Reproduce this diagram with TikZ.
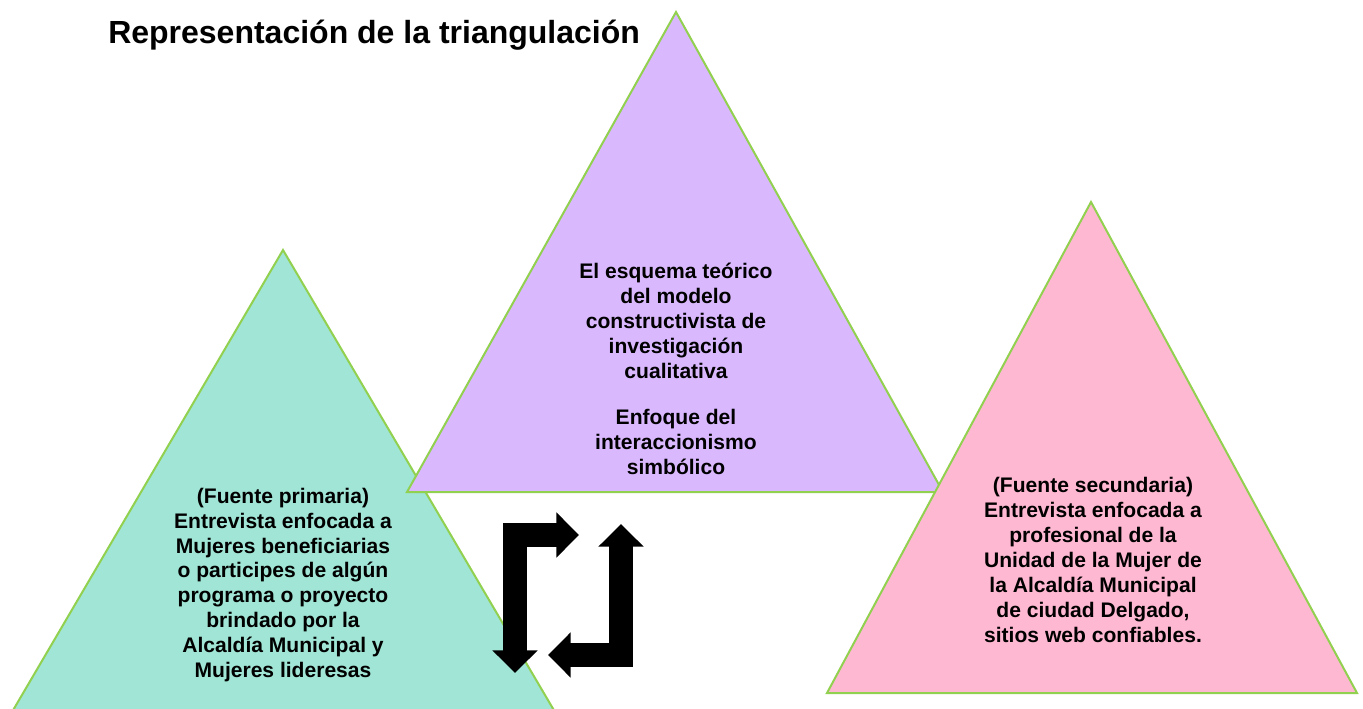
\documentclass[tikz,border=0pt]{standalone}
\usepackage{fontspec}
\setmainfont{Liberation Sans}
\usepackage{xcolor}
\usepackage{tikz}
\usetikzlibrary{arrows.meta}
\usetikzlibrary{positioning}
\definecolor{menta}{HTML}{A0E5D5}
\definecolor{lila}{HTML}{DAB8FE}
\definecolor{rosa}{HTML}{FFB8D2}
\definecolor{borde}{HTML}{92D050}

\begin{document}
\begin{tikzpicture}[
  x=0.75pt, y=-0.75pt,
  tri/.style={draw=borde, line width=1.5pt, line join=miter},
  texto/.style={align=center, font=\fontsize{15.8}{18.7}\selectfont\bfseries},
  flecha/.style={line width=18pt, line join=miter,
    {Triangle[width=33pt,length=17pt]}-{Triangle[width=33pt,length=17pt]}}]
  \useasboundingbox (0,0) rectangle (1363,709);

  \node[anchor=base west, inner sep=0pt, font=\fontsize{24}{28}\selectfont\bfseries] (titulo) at (108,44)
    {Representación de la triangulación};

  % fuente primaria
  \draw[tri, fill=menta] (283,250) -- (12,712) -- (555,712) -- cycle;
  \node[texto] (primaria) at (283,585)
    {(Fuente primaria)\\Entrevista enfocada a\\Mujeres beneficiarias\\o participes de algún\\programa o proyecto\\brindado por la\\Alcaldía Municipal y\\Mujeres lideresas};

  % marco teorico
  \draw[tri, fill=lila] (676,12) -- (407,492) -- (943,492) -- cycle;
  \node[texto] (teoria) at (676,369)
    {El esquema teórico\\del modelo\\constructivista de\\investigación\\cualitativa\\[16pt]Enfoque del\\interaccionismo\\simbólico};

  % fuente secundaria
  \draw[tri, fill=rosa] (1091,202) -- (827,693) -- (1357,693) -- cycle;
  \node[texto] (secundaria) at (1093,560)
    {(Fuente secundaria)\\Entrevista enfocada a\\profesional de la\\Unidad de la Mujer de\\la Alcaldía Municipal\\de ciudad Delgado,\\sitios web confiables.};

  % flechas
  \coordinate (f1a) at (515,673);
  \coordinate (f1b) at (515,535);
  \coordinate (f1c) at (579,535);
  \coordinate (f2a) at (621,524);
  \coordinate (f2b) at (621,655);
  \coordinate (f2c) at (548,655);
  \draw[flecha] (f1a) -- (f1b) -- (f1c);
  \draw[flecha] (f2a) -- (f2b) -- (f2c);
\end{tikzpicture}
\end{document}
